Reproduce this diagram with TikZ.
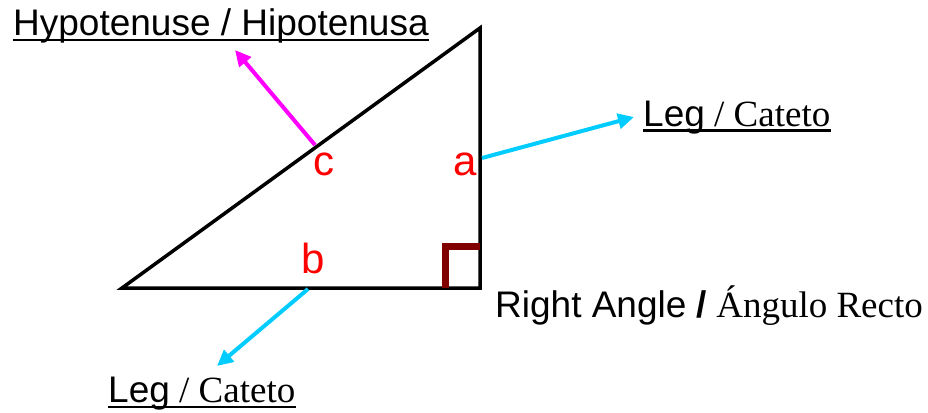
\documentclass[tikz,border=0pt]{standalone}
\usepackage{fontspec}
\setmainfont{Liberation Serif}
\newfontfamily\arial{Liberation Sans}
\usetikzlibrary{arrows.meta}
\definecolor{mag}{RGB}{255,0,255}
\definecolor{sky}{RGB}{0,204,255}
\definecolor{darkred}{RGB}{128,0,0}
\tikzset{
  txt/.style={inner sep=0pt, anchor=base west, font=\fontsize{37}{37}\selectfont},
  lbl/.style={inner sep=0pt, anchor=base, text=red, font=\arial\fontsize{42}{42}\selectfont},
  side/.style={line width=3.5pt, line join=miter},
  pointer/.style={line width=4pt, -{Triangle[length=16pt,width=15pt]}},
  uline/.style={line width=2.5pt}
}
\begin{document}
\begin{tikzpicture}[x=1pt,y=-1pt]
\useasboundingbox (0,0) rectangle (928,412);
% triangle
\coordinate (A) at (122,288);
\coordinate (B) at (480,288);
\coordinate (C) at (480,28);
\draw[side] (A) -- (B) -- (C) -- cycle;
% right angle mark
\coordinate (r1) at (445,288);
\coordinate (r2) at (445,246.5);
\coordinate (r3) at (480,246.5);
\draw[darkred, line width=7pt] (r1) -- (r2) -- (r3);
% labels
\node[lbl] (lc) at (324,175) {c};
\node[lbl] (la) at (465,175) {a};
\node[lbl] (lb) at (313,273) {b};
% texts
\node[txt] (hyp) at (13,36) {\arial Hypotenuse / Hipotenusa};
\draw[uline] ([yshift=-4pt]hyp.base west) -- ([yshift=-4pt]hyp.base east);
\node[txt] (leg1) at (643,126) {{\arial Leg} / Cateto};
\draw[uline] ([yshift=-4.5pt]leg1.base west) -- ([yshift=-4.5pt]leg1.base east);
\node[txt] (leg2) at (108,402) {{\arial Leg} / Cateto};
\draw[uline] ([yshift=-5pt]leg2.base west) -- ([yshift=-5pt]leg2.base east);
\node[txt] (ra) at (495,317) {{\arial Right Angle \textbf{/}} Ángulo Recto};
% arrows
\coordinate (hs) at (315,145);
\coordinate (he) at (235,50);
\draw[pointer, mag] (hs) -- (he);
\coordinate (as) at (482,158);
\coordinate (ae) at (634,117);
\draw[pointer, sky] (as) -- (ae);
\coordinate (bs) at (308,289);
\coordinate (be) at (217,366);
\draw[pointer, sky] (bs) -- (be);
\end{tikzpicture}
\end{document}
